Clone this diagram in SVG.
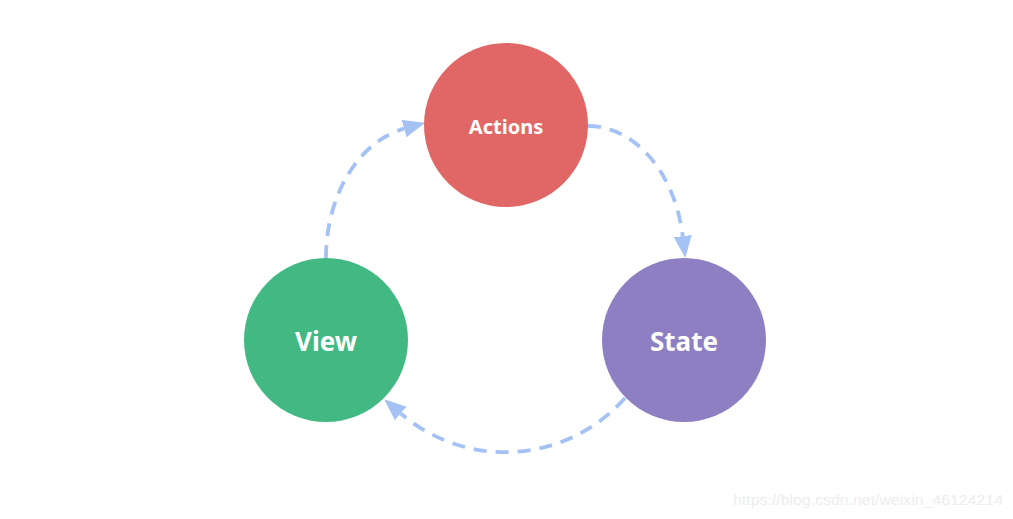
<svg xmlns="http://www.w3.org/2000/svg" width="1013" height="519" viewBox="0 0 1013 519">
<style>
.node-label{font-family:"Noto Sans","Open Sans","DejaVu Sans",sans-serif;font-weight:bold;fill:#ffffff;text-anchor:middle;dominant-baseline:central}
.conn{fill:none;stroke:#a4c2f4;stroke-width:3.8;stroke-dasharray:13 9}
.wm{font-family:"Liberation Sans",Arial,sans-serif;font-size:15.5px;fill:#ededed}
</style>
<defs>
<marker id="arrow" markerUnits="userSpaceOnUse" markerWidth="24" markerHeight="20" refX="0" refY="9" orient="auto" viewBox="0 0 24 20">
<path d="M0,0 L22,9 L0,18 Z" fill="#a4c2f4"/>
</marker>
</defs>
<rect width="1013" height="519" fill="#ffffff"/>
<g id="connectors">
<path class="conn" d="M326,258 A98,132 0 0 1 404.1,128.7" marker-end="url(#arrow)"/>
<path class="conn" d="M588,126 A96,132 0 0 1 682.7,236.2" marker-end="url(#arrow)"/>
<path class="conn" d="M625,398 A160,160 0 0 1 400.8,413.5" marker-end="url(#arrow)"/>
</g>
<g id="actions">
<circle cx="506" cy="125" r="82" fill="#e06765"/>
<text class="node-label" x="506" y="126" font-size="20">Actions</text>
</g>
<g id="view">
<circle cx="326" cy="340" r="82" fill="#42b983"/>
<text class="node-label" x="326" y="341" font-size="26">View</text>
</g>
<g id="state">
<circle cx="684" cy="340" r="82" fill="#8e7fc3"/>
<text class="node-label" x="684" y="341" font-size="26">State</text>
</g>
<text class="wm" x="733" y="505" textLength="270" lengthAdjust="spacingAndGlyphs">https://blog.csdn.net/weixin_46124214</text>
</svg>
